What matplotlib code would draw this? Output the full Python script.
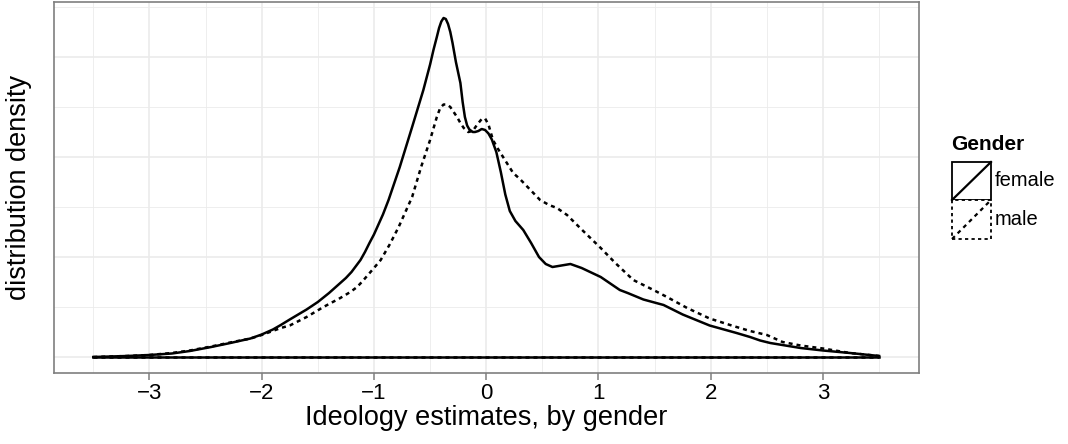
import matplotlib
matplotlib.use("Agg")
import matplotlib.pyplot as plt
from matplotlib.lines import Line2D
from matplotlib.patches import Rectangle

plt.rcParams["font.family"] = ["Liberation Sans", "DejaVu Sans"]

# ── Data ─────────────────────────────────────────────────────────────────────
female_x = [-3.5, -3.2, -3.0, -2.8, -2.64, -2.45, -2.28, -2.1, -2.0, -1.9, -1.83,
            -1.75, -1.6, -1.5, -1.4, -1.3, -1.25, -1.2, -1.16, -1.12, -1.08, -1.04,
            -1.0, -0.97, -0.92, -0.87, -0.77, -0.66, -0.56, -0.5, -0.47, -0.44,
            -0.42, -0.40, -0.38, -0.36, -0.34, -0.32, -0.30, -0.27, -0.23, -0.21,
            -0.19, -0.17, -0.15, -0.12, -0.10, -0.07, -0.04, -0.01, 0.02, 0.05,
            0.09, 0.13, 0.17, 0.21, 0.26, 0.33, 0.40, 0.47, 0.53, 0.59, 0.67, 0.75,
            0.85, 1.02, 1.19, 1.26, 1.4, 1.58, 1.75, 1.99, 2.23, 2.35, 2.44, 2.53,
            2.8, 3.0, 3.24, 3.5]
female_y = [0.0, 0.002, 0.004, 0.007, 0.012, 0.02, 0.028, 0.037, 0.045, 0.055, 0.064,
            0.075, 0.095, 0.11, 0.128, 0.148, 0.158, 0.17, 0.182, 0.194, 0.21, 0.228,
            0.245, 0.26, 0.285, 0.314, 0.38, 0.46, 0.534, 0.585, 0.614, 0.64,
            0.658, 0.671, 0.678, 0.676, 0.666, 0.65, 0.628, 0.59, 0.548, 0.51,
            0.48, 0.463, 0.455, 0.45, 0.45, 0.452, 0.456, 0.454, 0.447, 0.435,
            0.41, 0.37, 0.325, 0.292, 0.272, 0.254, 0.228, 0.2, 0.186, 0.18, 0.183, 0.186,
            0.178, 0.16, 0.134, 0.128, 0.115, 0.104, 0.085, 0.063, 0.048, 0.04, 0.033, 0.028,
            0.018, 0.013, 0.008, 0.002]

male_x = [-3.5, -3.2, -3.0, -2.8, -2.64, -2.45, -2.28, -2.1, -2.0, -1.83, -1.75,
          -1.6, -1.45, -1.3, -1.21, -1.15, -1.1, -1.05, -1.0, -0.94, -0.86, -0.78,
          -0.72, -0.66, -0.58, -0.5, -0.44, -0.41, -0.38, -0.35, -0.32, -0.29,
          -0.26, -0.23, -0.2, -0.16, -0.12, -0.08, -0.04, -0.01, 0.02, 0.06, 0.1,
          0.15, 0.24, 0.3, 0.39, 0.48, 0.56, 0.63, 0.72, 0.85, 1.02, 1.15, 1.31,
          1.49, 1.61, 1.79, 1.99, 2.2, 2.35, 2.5, 2.64, 2.8, 3.0, 3.24, 3.5]
male_y = [0.0, 0.002, 0.004, 0.008, 0.013, 0.021, 0.029, 0.037, 0.044, 0.058, 0.063,
          0.08, 0.1, 0.118, 0.13, 0.14, 0.152, 0.165, 0.178, 0.194, 0.225, 0.26,
          0.29, 0.32, 0.38, 0.434, 0.48, 0.498, 0.505, 0.505, 0.5, 0.49,
          0.48, 0.468, 0.458, 0.45, 0.452, 0.465, 0.476, 0.477, 0.465, 0.434, 0.418,
          0.4, 0.368, 0.356, 0.335, 0.314, 0.304, 0.298, 0.284, 0.255, 0.218, 0.188, 0.154,
          0.134, 0.12, 0.098, 0.077, 0.062, 0.052, 0.044, 0.03, 0.023, 0.017, 0.008, 0.002]

x_ticks = [-3, -2, -1, 0, 1, 2, 3]
x_minor = [-3.5, -2.5, -1.5, -0.5, 0.5, 1.5, 2.5, 3.5]
y_major = [0.0, 0.2, 0.4, 0.6]
y_minor = [0.1, 0.3, 0.5, 0.7]

# ── Figure ───────────────────────────────────────────────────────────────────
W, H = 1068, 444
fig = plt.figure(figsize=(W / 100, H / 100), dpi=100)
ax = fig.add_axes([54 / W, (H - 373) / H, 865 / W, 371 / H])

ax.set_xlim(-3.85, 3.855)
ax.set_ylim(-0.032, 0.71)

grid_col = "#ebebeb"
for v in x_minor:
    ax.axvline(v, color=grid_col, lw=0.6, zorder=0)
for v in x_ticks:
    ax.axvline(v, color=grid_col, lw=1.2, zorder=0)
for v in y_minor:
    ax.axhline(v, color=grid_col, lw=0.6, zorder=0)
for v in y_major:
    ax.axhline(v, color=grid_col, lw=1.2, zorder=0)

lw = 1.8
dash = (1.6, 1.6)
ax.plot(male_x, male_y, color="black", lw=lw, linestyle=(0, dash), zorder=2,
        solid_joinstyle="round")
ax.plot([male_x[0], male_x[-1]], [0, 0], color="black", lw=lw, linestyle=(0, dash), zorder=2)
ax.plot(female_x, female_y, color="black", lw=lw, zorder=3, solid_joinstyle="round")
ax.plot([female_x[0], female_x[-1]], [0, 0], color="black", lw=lw, zorder=3)

ax.set_xticks(x_ticks)
ax.set_yticks([])
ax.tick_params(axis="x", length=5, width=1.1, color="#7f7f7f", labelsize=16,
               pad=2, labelcolor="black")
for s in ax.spines.values():
    s.set_color("#7f7f7f")
    s.set_linewidth(1.2)

ax.set_xlabel("Ideology estimates, by gender", fontsize=19.5, labelpad=1)
ax.set_ylabel("distribution density", fontsize=19.5, labelpad=16)

# ── Legend (drawn by hand, ggplot style) ────────────────────────────────────
def fx(px):
    return px / W


def fy(py):
    return 1 - py / H


fig.text(fx(951), fy(145), "Gender", fontsize=15, fontweight="bold", va="center", ha="left")

keys = [("female", "-", 162, 200), ("male", (0, (1.8, 1.8)), 200, 239)]
for label, ls, top, bot in keys:
    rect = Rectangle((fx(952), fy(bot)), fx(991) - fx(952), fy(top) - fy(bot),
                     transform=fig.transFigure, facecolor="white", edgecolor="black",
                     lw=1.3, linestyle=ls)
    fig.add_artist(rect)
    fig.add_artist(Line2D([fx(952), fx(991)], [fy(bot), fy(top)], transform=fig.transFigure,
                          color="black", lw=1.6, linestyle=ls))
    fig.text(fx(995), fy((top + bot) / 2), label, fontsize=14.5, va="center", ha="left")

fig.savefig("out.png", dpi=100)
